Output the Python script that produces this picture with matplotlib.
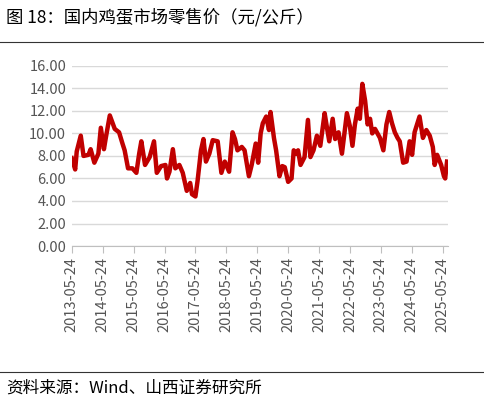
import numpy as np
import matplotlib
matplotlib.use("Agg")
import matplotlib.pyplot as plt
from matplotlib.lines import Line2D

plt.rcParams['font.family'] = ['Noto Sans CJK SC', 'DejaVu Sans']

# decimal year and price (yuan/jin)
years = [2013.39, 2013.50, 2013.55, 2013.68, 2013.77, 2013.93, 2014.00, 2014.12, 2014.25, 2014.33,
         2014.43, 2014.49, 2014.62, 2014.78, 2014.92, 2015.03, 2015.10, 2015.21, 2015.35, 2015.48,
         2015.57, 2015.64, 2015.76, 2015.91, 2016.05, 2016.14, 2016.28, 2016.42, 2016.47, 2016.55,
         2016.66, 2016.74, 2016.87, 2016.98, 2017.11, 2017.22, 2017.28, 2017.39, 2017.46, 2017.57,
         2017.65, 2017.73, 2017.84, 2017.95, 2018.11, 2018.23, 2018.34, 2018.48, 2018.59, 2018.67,
         2018.75, 2018.89, 2018.98, 2019.12, 2019.21, 2019.34, 2019.42, 2019.50, 2019.57, 2019.68,
         2019.77, 2019.82, 2019.93, 2020.00, 2020.11, 2020.20, 2020.28, 2020.39, 2020.50, 2020.57,
         2020.65, 2020.71, 2020.79, 2020.92, 2021.03, 2021.11, 2021.21, 2021.32, 2021.43, 2021.57,
         2021.64, 2021.72, 2021.83, 2021.91, 2022.02, 2022.13, 2022.21, 2022.29, 2022.39, 2022.47,
         2022.55, 2022.64, 2022.71, 2022.79, 2022.88, 2022.96, 2023.04, 2023.11, 2023.20, 2023.28,
         2023.36, 2023.47, 2023.57, 2023.66, 2023.75, 2023.84, 2023.93, 2024.00, 2024.11, 2024.22,
         2024.32, 2024.40, 2024.48, 2024.64, 2024.75, 2024.86, 2024.97, 2025.07, 2025.13, 2025.21,
         2025.34, 2025.43, 2025.47, 2025.53]
price = [7.8, 6.8, 8.4, 9.8, 8.0, 8.1, 8.6, 7.4, 8.2, 10.5,
         8.6, 9.6, 11.6, 10.4, 10.1, 9.1, 8.5, 6.9, 6.9, 6.5,
         8.2, 9.3, 7.2, 7.9, 9.3, 6.5, 7.1, 7.2, 6.0, 6.6,
         8.6, 6.9, 7.2, 6.5, 4.9, 5.6, 4.6, 4.4, 5.8, 8.5,
         9.5, 7.5, 8.2, 9.4, 9.3, 6.5, 7.5, 6.6, 10.1, 9.5,
         8.5, 8.8, 8.5, 6.2, 7.2, 9.1, 7.4, 10.0, 10.9, 11.5,
         10.3, 11.9, 9.6, 8.5, 6.2, 7.1, 7.0, 5.7, 6.0, 8.5,
         8.2, 8.5, 7.2, 7.9, 11.2, 7.9, 8.5, 9.8, 8.9, 11.8,
         10.6, 9.3, 11.3, 9.5, 10.1, 8.2, 10.0, 11.8, 10.6, 8.9,
         10.8, 12.2, 11.3, 14.4, 12.9, 10.8, 11.3, 10.0, 10.4, 10.0,
         9.6, 8.5, 10.8, 11.9, 10.9, 10.1, 9.6, 9.3, 7.4, 7.5,
         9.3, 8.1, 10.1, 11.5, 9.6, 10.3, 9.8, 8.8, 7.2, 8.1,
         7.2, 6.2, 6.0, 7.5]
tick_labels = [f"{y}-05-24" for y in range(2013, 2026)]
tick_pos = [y + 0.39 for y in range(2013, 2026)]
y_ticks = np.arange(0, 17, 2)

fig = plt.figure(figsize=(4.85, 4.04), dpi=100)
ax = fig.add_axes([0.148, 0.391, 0.775, 0.446])
ax.plot(years, price, color="#c00000", lw=3.2, solid_joinstyle="round")
ax.set_xlim(2013.39, 2025.55)
ax.set_ylim(0, 16)
ax.set_yticks(y_ticks)
ax.set_yticklabels([f"{v:.2f}" for v in y_ticks], color="#555555", fontsize=10.5)
ax.set_xticks(tick_pos)
ax.set_xticklabels(tick_labels, rotation=90, color="#555555", fontsize=10.5)
ax.yaxis.grid(True, color="#d9d9d9", lw=1)
ax.set_axisbelow(True)
for s in ["top", "right", "left"]:
    ax.spines[s].set_visible(False)
ax.spines["bottom"].set_color("#bfbfbf")
ax.tick_params(axis="y", length=0, pad=4)
ax.tick_params(axis="x", length=5, color="#bfbfbf", pad=3)

fig.text(0.012, 0.958, "图 18：国内鸡蛋市场零售价（元/公斤）", fontsize=12.5, va="center")
fig.add_artist(Line2D([0, 1], [0.896, 0.896], color="#333333", lw=0.8))
fig.add_artist(Line2D([0, 1], [0.079, 0.079], color="#333333", lw=0.8))
fig.text(0.012, 0.04, "资料来源：Wind、山西证券研究所", fontsize=12, va="center")

fig.savefig("out.png", dpi=100)
